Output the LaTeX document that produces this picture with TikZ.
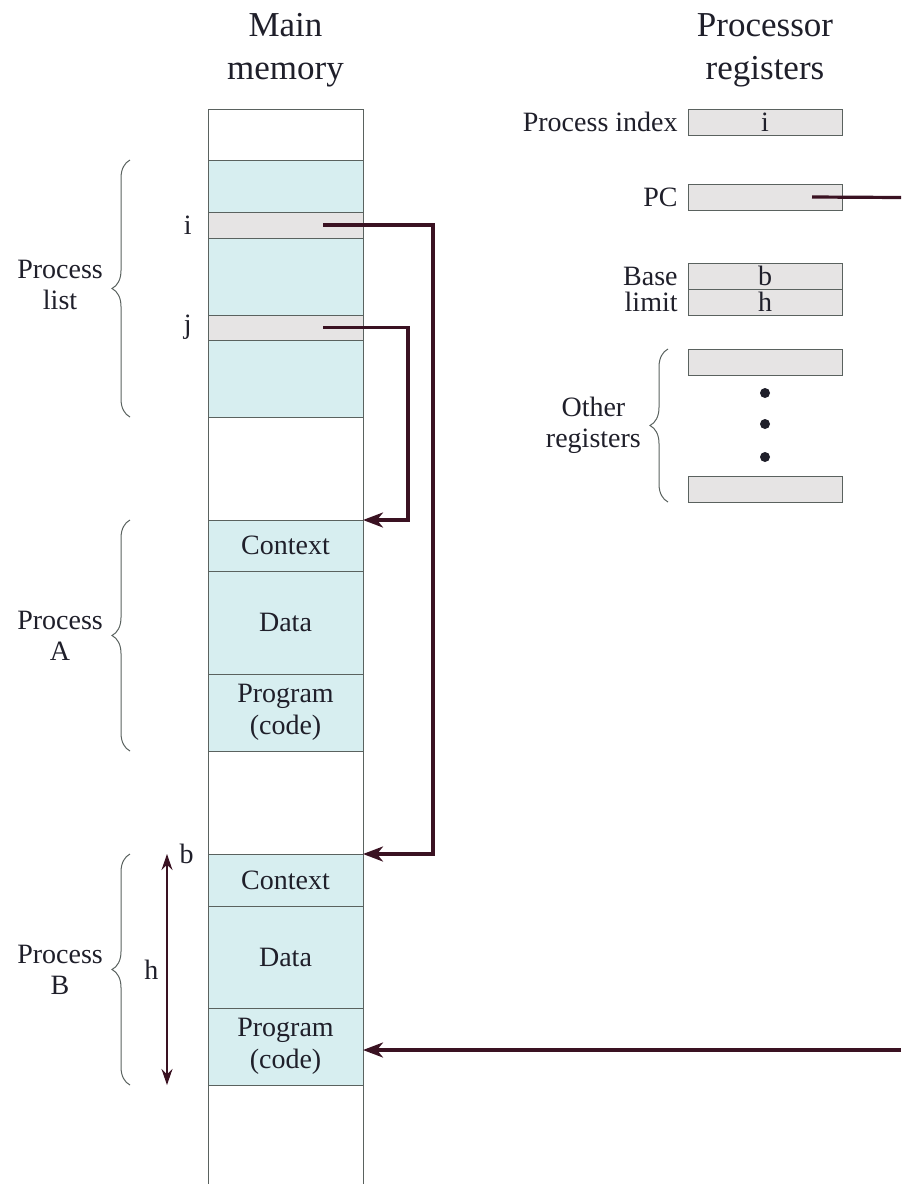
\documentclass[tikz,border=0pt]{standalone}
\usepackage{fontspec}
\setmainfont{Liberation Serif}
\usetikzlibrary{positioning, arrows.meta, decorations.pathreplacing, calc}
\definecolor{memcyan}{HTML}{D7EEF0}
\definecolor{reggray}{HTML}{E6E4E4}
\definecolor{edgegray}{HTML}{5A625F}
\definecolor{ptrred}{HTML}{3A1222}
\definecolor{inkdark}{HTML}{1F1F2A}
\newcommand{\memfont}{\fontsize{14}{16}\selectfont}
\newcommand{\headfont}{\fontsize{17.5}{21.5}\selectfont}

\tikzset{
  seg/.style={draw=edgegray, line width=0.5pt, minimum width=77.5pt, inner sep=0pt,
    outer sep=0pt, align=center, text=inkdark, font=\memfont},
  reg/.style={draw=edgegray, fill=reggray, line width=0.5pt, minimum width=77pt,
    minimum height=13pt, inner sep=0pt, outer sep=0pt, text=inkdark, font=\memfont},
  lbl/.style={text=inkdark, font=\memfont, inner sep=1pt},
  head/.style={text=inkdark, font=\headfont, align=center},
  ptr/.style={draw=ptrred, line width=1.6pt, -{Stealth[length=10pt, width=7.5pt, inset=3pt]}},
  ptrline/.style={draw=ptrred, line width=1.6pt},
  harrow/.style={draw=ptrred, line width=0.6pt, {Stealth[length=8pt, width=5.5pt]}-{Stealth[length=8pt, width=5.5pt]}},
  brace/.style={draw=edgegray, line width=0.5pt, decorate, decoration={brace, amplitude=9pt}},
  bracelbl/.style={left=10pt, align=center, text=inkdark, font=\fontsize{14}{15.5}\selectfont}
}

\begin{document}
\begin{tikzpicture}[x=0.5pt, y=-0.5pt]
  \useasboundingbox (0,0) rectangle (901,1184);

  % headers
  \node[head] (hmem) at (285.5,50) {Main\\memory};
  \node[head] (hreg) at (765,50) {Processor\\registers};

  % main memory
  \node[seg, anchor=north west, minimum height=25.5pt] (mtop) at (208,109) {};
  \node[seg, fill=memcyan, minimum height=26pt, below=0pt of mtop] (plA) {};
  \node[seg, fill=reggray, minimum height=13pt, below=0pt of plA] (pi) {};
  \node[seg, fill=memcyan, minimum height=38.5pt, below=0pt of pi] (plB) {};
  \node[seg, fill=reggray, minimum height=12.5pt, below=0pt of plB] (pj) {};
  \node[seg, fill=memcyan, minimum height=38.5pt, below=0pt of pj] (plC) {};
  \node[seg, minimum height=51.5pt, below=0pt of plC] (gapA) {};
  \node[seg, fill=memcyan, minimum height=25.5pt, below=0pt of gapA] (ctxA) {Context};
  \node[seg, fill=memcyan, minimum height=51.5pt, below=0pt of ctxA] (dataA) {Data};
  \node[seg, fill=memcyan, minimum height=38.5pt, below=0pt of dataA] (progA) {Program\\(code)};
  \node[seg, minimum height=51.5pt, below=0pt of progA] (gapB) {};
  \node[seg, fill=memcyan, minimum height=26pt, below=0pt of gapB] (ctxB) {Context};
  \node[seg, fill=memcyan, minimum height=51pt, below=0pt of ctxB] (dataB) {Data};
  \node[seg, fill=memcyan, minimum height=38.5pt, below=0pt of dataB] (progB) {Program\\(code)};
  \draw[edgegray, line width=0.5pt] (progB.south west) -- ++(0,99) (progB.south east) -- ++(0,99);

  \node[lbl, left=7pt of pi.west] (li) {i};
  \node[lbl, left=7pt of pj.west] (lj) {j};
  \node[lbl, left=6pt of ctxB.north west] (lb) {b};

  % extent of process B
  \draw[harrow] ([xshift=-20.5pt]ctxB.north west) -- node[lbl, left=3pt] {h} ([xshift=-20.5pt]progB.south west);

  % braces
  \draw[brace] ([xshift=-39pt]plC.south west) -- node[bracelbl, yshift=2pt] {Process\\list} ([xshift=-39pt]plA.north west);
  \draw[brace] ([xshift=-39pt]progA.south west) -- node[bracelbl] {Process\\A} ([xshift=-39pt]ctxA.north west);
  \draw[brace] ([xshift=-39pt]progB.south west) -- node[bracelbl] {Process\\B} ([xshift=-39pt]ctxB.north west);

  % processor registers
  \node[reg, anchor=north west] (rindex) at (688,109) {i};
  \node[reg, anchor=north west] (rpc) at (688,184) {};
  \node[reg, anchor=north west] (rbase) at (688,263) {b};
  \node[reg, below=0pt of rbase] (rlimit) {h};
  \node[reg, anchor=north west] (rfirst) at (688,349) {};
  \node[reg, anchor=north west] (rlast) at (688,476) {};
  \foreach \y in {393,424,457}
    \fill[inkdark] (765,\y) circle (2.5pt);

  \node[lbl, left=4pt of rindex] {Process index};
  \node[lbl, left=4pt of rpc] {PC};
  \node[lbl, left=4pt of rbase] {Base};
  \node[lbl, left=4pt of rlimit] {limit};
  \draw[brace] ([xshift=-10pt]rlast.south west) -- node[bracelbl] {Other\\registers} ([xshift=-10pt]rfirst.north west);

  % pointers
  \coordinate (pcout) at (901,197.5);
  \coordinate (progin) at (901,1050);
  \draw[ptr] ([xshift=18.75pt]pi.center) -| ([xshift=35pt]ctxB.north east) -- (ctxB.north east);
  \draw[ptr] ([xshift=18.75pt]pj.center) -| ([xshift=22.5pt]ctxA.north east) -- (ctxA.north east);
  \draw[ptrline] ([xshift=23.5pt]rpc.center) -- (pcout);
  \draw[ptr] (progin) -- (progB.east |- progin);
\end{tikzpicture}
\end{document}
